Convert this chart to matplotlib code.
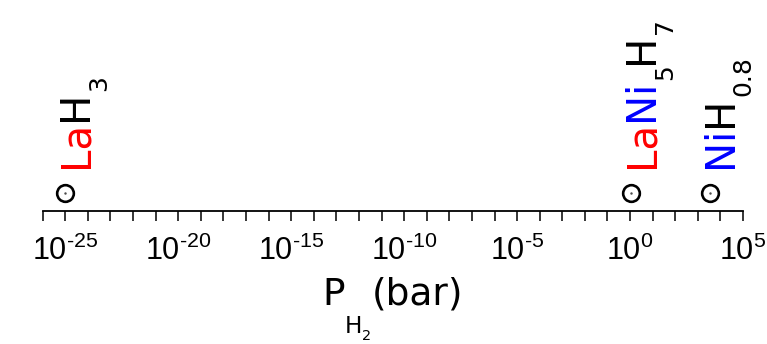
import matplotlib
matplotlib.use("Agg")
import matplotlib.pyplot as plt
import numpy as np
from matplotlib.transforms import IdentityTransform

# data
compounds = ["LaH3", "LaNi5H7", "NiH0.8"]
pressures = [1e-25, 1.15, 3.4e3]          # bar
label_parts = [
    [("La", "red", 0), ("H", "black", 0), ("3", "black", 1)],
    [("La", "red", 0), ("Ni", "blue", 0), ("5", "black", 1), ("H", "black", 0), ("7", "black", 1)],
    [("Ni", "blue", 0), ("H", "black", 0), ("0.8", "black", 1)],
]
xlabel_parts = [("P", "black", 0), ("H", "black", 1), ("2", "black", 2), ("(bar)", "black", 0)]
decades = np.arange(-26, 6)
label_exponents = [-25, -20, -15, -10, -5, 0, 5]

tick_font = "Liberation Sans"
plt.rcParams["mathtext.fontset"] = "custom"
plt.rcParams["mathtext.rm"] = tick_font
plt.rcParams["mathtext.it"] = tick_font
plt.rcParams["mathtext.bf"] = tick_font
plt.rcParams["mathtext.sf"] = tick_font

W, H = 767, 344
fig = plt.figure(figsize=(W / 100, H / 100), dpi=100)
ax = fig.add_axes([42.7 / W, 133 / H, (743 - 42.7) / W, 1 - 133 / H])
ax.set_xscale("log")
ax.set_xlim(10.0 ** decades[0], 10.0 ** decades[-1])
ax.set_ylim(0, 1)

for s in ["top", "left", "right"]:
    ax.spines[s].set_visible(False)
ax.spines["bottom"].set_linewidth(1.3)
ax.set_yticks([])

ax.set_xticks([10.0 ** e for e in label_exponents])
ax.set_xticklabels([r"$\mathrm{10^{\text{%d}}}$" % e for e in label_exponents])
ax.set_xticks(10.0 ** decades, minor=True)
ax.xaxis.set_minor_formatter(matplotlib.ticker.NullFormatter())
ax.tick_params(axis="x", which="both", direction="out", length=7, width=1.1,
               color="black", pad=10)
ax.tick_params(axis="x", which="major", labelsize=22)

y_mark = 0.085
ax.plot(pressures, [y_mark] * len(pressures), "o", ms=12, mfc="white",
        mec="black", mew=1.9, clip_on=False)
ax.plot(pressures, [y_mark] * len(pressures), ".", ms=1.5, color="0.3", clip_on=False)

renderer = fig.canvas.get_renderer()


def draw_formula(x0, y0, parts, size, rotation, drops, scale=0.62):
    """Place pieces one after another, in pixel coordinates."""
    em = size * 100 / 72
    pos = 0.0
    texts = []
    for text, color, level in parts:
        d = drops[level] * em
        if rotation:
            xy = (x0 + d, y0 + pos)
        else:
            xy = (x0 + pos, y0 - d)
        t = fig.text(xy[0], xy[1], text, transform=IdentityTransform(),
                     rotation=rotation, rotation_mode="anchor", ha="left",
                     va="baseline", fontsize=size * scale ** level, color=color,
                     family="DejaVu Sans")
        bb = t.get_window_extent(renderer)
        pos += bb.height if rotation else bb.width
        texts.append(t)
    return texts, pos


for p, parts in zip(pressures, label_parts):
    mx, my = ax.transData.transform((p, y_mark))
    draw_formula(mx + 22, my + 25, parts, 29, 90, [0, 0.46])

texts, total = draw_formula(0, 39, xlabel_parts, 27, 0, [0, 0.74, 0.92])
cx = ax.transAxes.transform((0.5, 0))[0]
for t in texts:
    x, y = t.get_position()
    t.set_position((x + cx - total / 2, y))

fig.savefig("out.png", dpi=100)
